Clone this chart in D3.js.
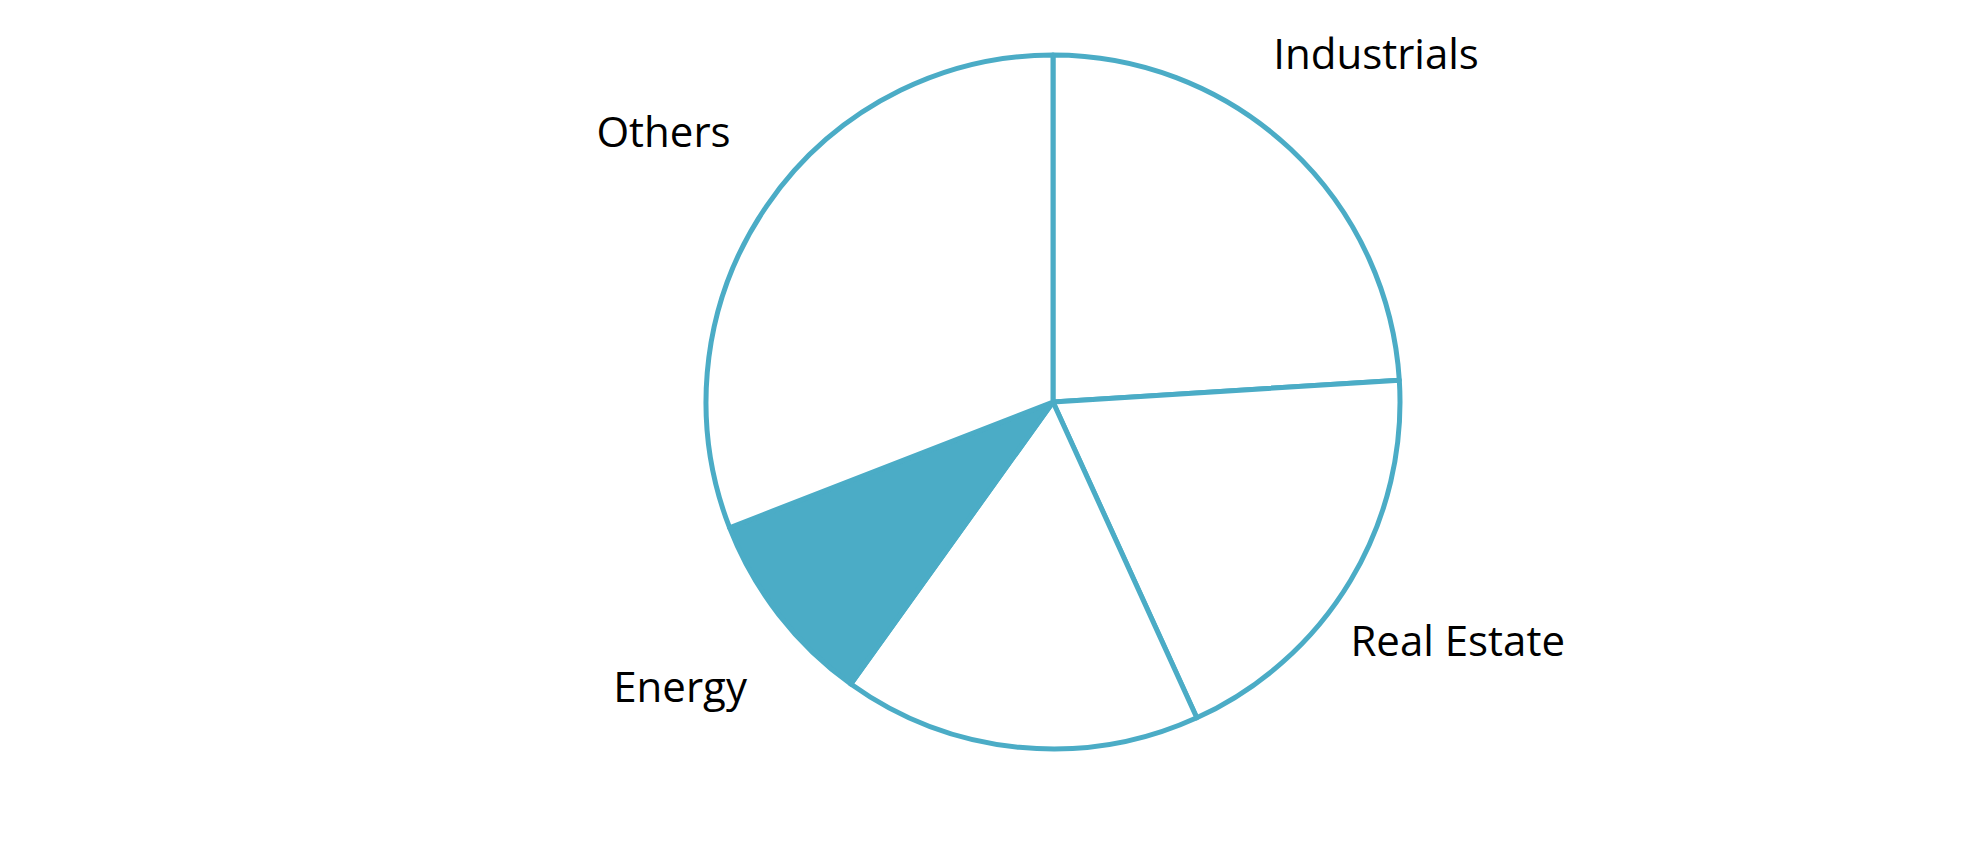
<!DOCTYPE html>
<html><head><meta charset="utf-8">
<script src="https://cdn.jsdelivr.net/npm/d3@7"></script>
<style>body{margin:0;background:#fff}</style></head>
<body><svg id="c" width="1980" height="852"></svg>
<script>
const categories = ["Industrials","Real Estate","Consumer","Energy","Others"];
const values = [24, 19.2, 16.7, 9.2, 30.9];
const highlighted = ["Energy"];

const svg = d3.select("#c");
const cx = 1053, cy = 402, r = 347;
const g = svg.append("g").attr("transform", `translate(${cx},${cy})`);
const data = categories.map((c,i)=>({cat:c, v:values[i]}));
const pie = d3.pie().value(d=>d.v).sort(null);
const arc = d3.arc().innerRadius(0).outerRadius(r);
const labelArc = d3.arc().innerRadius(r*1.36).outerRadius(r*1.36);
const arcs = pie(data);
g.selectAll("path").data(arcs).join("path")
  .attr("d", arc)
  .attr("fill", d=>highlighted.includes(d.data.cat) ? "#4BACC6" : "#fff")
  .attr("stroke", "#4BACC6").attr("stroke-width", 5).attr("stroke-linejoin","round");
g.selectAll("text").data(arcs).join("text")
  .attr("transform", d=>{const [x,y]=labelArc.centroid(d); return `translate(${x},${y})`;})
  .attr("text-anchor","middle").attr("dominant-baseline","middle")
  .attr("font-family","'Open Sans', sans-serif").attr("font-size", 42).attr("fill","#000")
  .text(d=>d.data.cat);
</script></body></html>
